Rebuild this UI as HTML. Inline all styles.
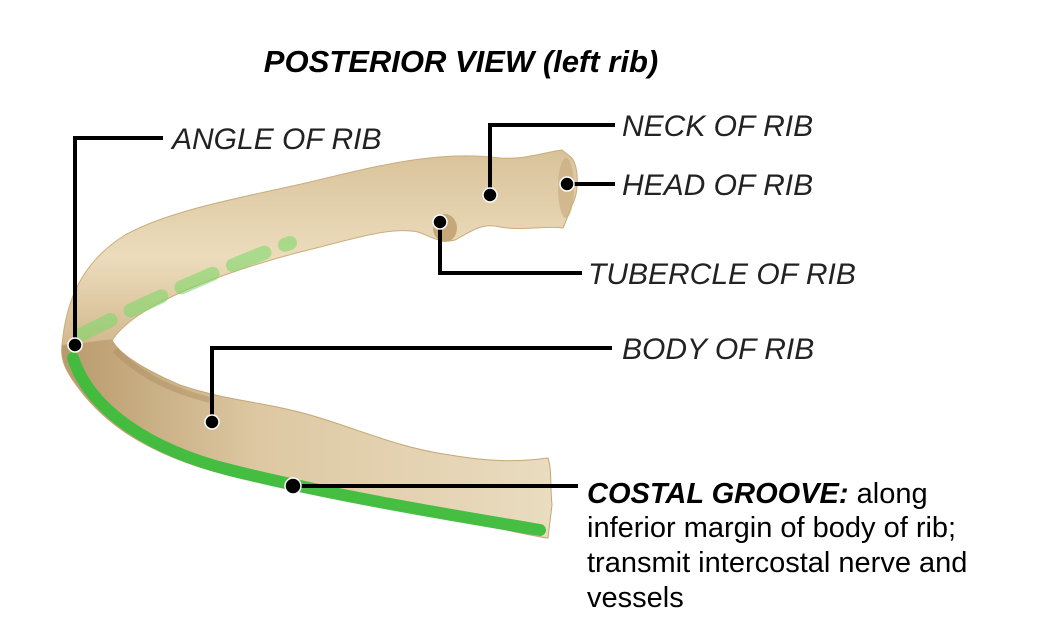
<!DOCTYPE html>
<html><head><meta charset="utf-8"><style>
html,body{margin:0;padding:0;background:#fff;width:1050px;height:640px;overflow:hidden}
svg{display:block}
text{font-family:"Liberation Sans",Arial,sans-serif}
</style></head><body>
<svg width="1050" height="640" viewBox="0 0 1050 640" xmlns="http://www.w3.org/2000/svg">
<defs>
<linearGradient id="bone" x1="0" y1="0" x2="0" y2="1">
<stop offset="0" stop-color="#d8c29a"/><stop offset="0.5" stop-color="#ecdcbc"/><stop offset="1" stop-color="#cdb184"/>
</linearGradient>
<linearGradient id="bone2" x1="0" y1="0" x2="1" y2="0">
<stop offset="0" stop-color="#b89a6c"/><stop offset="0.4" stop-color="#ddc8a2"/><stop offset="1" stop-color="#eadcc0"/>
</linearGradient>
</defs>
<text x="461" y="72" font-size="31" font-weight="bold" font-style="italic" text-anchor="middle" fill="#000">POSTERIOR VIEW (left rib)</text>

<path d="M62,345 C66,300 82,262 125,235 C170,210 240,198 310,182 C380,165 440,150 500,158 C525,160 545,152 562,150 L572,158 C580,170 578,195 572,205 C568,215 566,222 563,228 C545,225 520,232 495,226 C480,224 470,232 455,240 C440,244 430,236 418,232 C390,226 350,240 300,252 C250,265 190,285 150,308 C130,320 115,332 110,345 L90,365 Z" fill="url(#bone)" stroke="#c9ad7d" stroke-width="1"/>
<path d="M62,345 C60,360 66,372 80,390 C110,430 160,460 240,478 C320,496 400,510 470,522 C500,528 525,535 548,538 L552,505 C550,485 552,470 548,458 C520,462 490,462 450,455 C400,448 360,430 320,418 C270,402 230,402 180,385 C150,372 120,356 112,340 C100,340 80,345 62,345 Z" fill="url(#bone2)" stroke="#c4a676" stroke-width="1"/>
<path d="M115,350 C140,375 170,390 210,400" stroke="#a8875a" stroke-width="6" fill="none" opacity="0.4"/>
<ellipse cx="445" cy="228" rx="12" ry="14" fill="#c6a878"/>
<ellipse cx="566" cy="188" rx="8" ry="30" fill="#c7aa7c" opacity="0.6"/>

<path d="M80,335 C150,300 230,265 290,243" stroke="#7fd86a" stroke-width="14" stroke-linecap="round" stroke-dasharray="34 22" fill="none" opacity="0.6"/>
<path d="M73,358 C90,410 150,450 230,470 C330,495 450,515 540,530" stroke="#3cbd3c" stroke-width="12" stroke-linecap="round" fill="none" opacity="0.95"/>

<g stroke="#000" stroke-width="4" fill="none">
<polyline points="163,138 75,138 75,345"/>
<polyline points="615,125 490,125 490,195"/>
<line x1="567" y1="184" x2="615" y2="184"/>
<polyline points="440,222 440,273 582,273"/>
<polyline points="212,422 212,348 612,348"/>
<line x1="293" y1="486" x2="578" y2="486"/>
</g>
<g fill="#000" stroke="#fff" stroke-width="1.5">
<circle cx="75" cy="345" r="7"/><circle cx="490" cy="195" r="7"/><circle cx="567" cy="184" r="7"/>
<circle cx="440" cy="222" r="7"/><circle cx="212" cy="422" r="7"/><circle cx="293" cy="486" r="8"/>
</g>
<g font-size="30" font-style="italic" fill="#222">
<text x="172" y="149">ANGLE OF RIB</text>
<text x="622" y="136">NECK OF RIB</text>
<text x="622" y="195">HEAD OF RIB</text>
<text x="588" y="284">TUBERCLE OF RIB</text>
<text x="622" y="359">BODY OF RIB</text>
</g>
<g font-size="29" fill="#000">
<text x="587" y="503"><tspan font-weight="bold" font-style="italic">COSTAL GROOVE:</tspan> along</text>
<text x="587" y="537">inferior margin of body of rib;</text>
<text x="587" y="572">transmit intercostal nerve and</text>
<text x="587" y="607">vessels</text>
</g>
</svg>
</body></html>
